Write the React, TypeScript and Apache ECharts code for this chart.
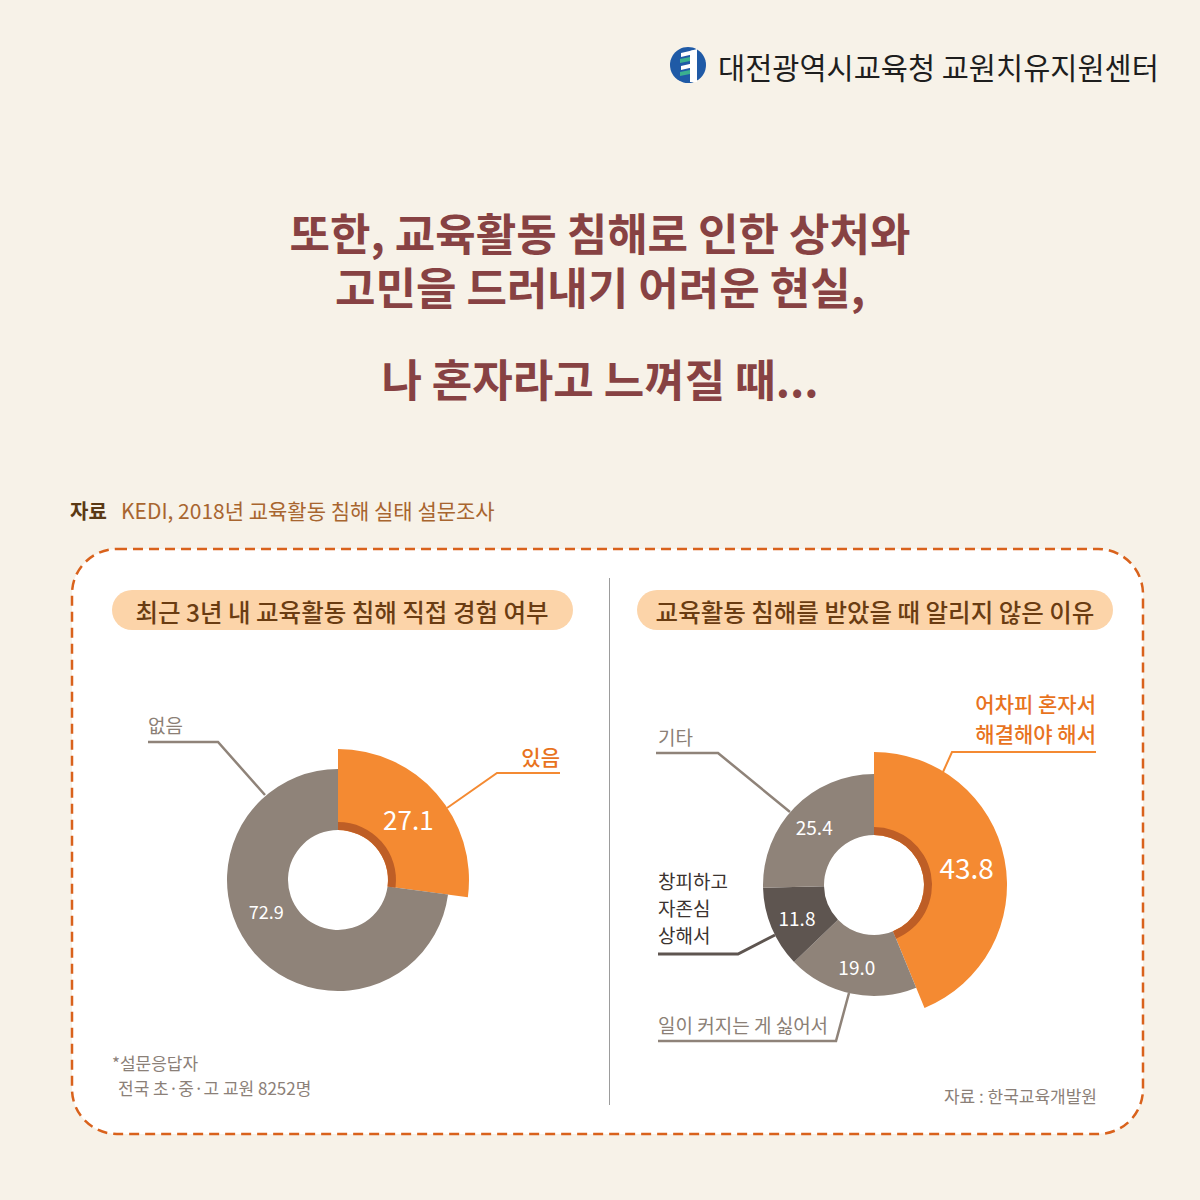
import React, { useEffect, useRef } from "react";
import * as echarts from "echarts";

const FONT = "'Noto Sans CJK KR', 'Noto Sans', sans-serif";

const titleLines = ["또한, 교육활동 침해로 인한 상처와", "고민을 드러내기 어려운 현실,", "나 혼자라고 느껴질 때..."];
const headerText = "대전광역시교육청 교원치유지원센터";
const sourceLabel = "자료";
const sourceText = "KEDI, 2018년 교육활동 침해 실태 설문조사";
const leftTitle = "최근 3년 내 교육활동 침해 직접 경험 여부";
const rightTitle = "교육활동 침해를 받았을 때 알리지 않은 이유";

const leftCategories = ["있음", "없음"];
const leftValues = [27.1, 72.9];

const rightCategories = ["어차피 혼자서\n해결해야 해서", "일이 커지는 게 싫어서", "창피하고\n자존심\n상해서", "기타"];
const rightValues = [43.8, 19.0, 11.8, 25.4];

const leftNote = ["*설문응답자", "전국 초·중·고 교원 8252명"];
const rightNote = "자료 : 한국교육개발원";

const ORANGE = "#F48A32";
const DARK_ORANGE = "#BE5E26";
const GREY = "#8F8379";
const DARK_GREY = "#5E5550";
const TRANSPARENT = "rgba(0,0,0,0)";

const fmt = (p: any) => Number(p.value).toFixed(1);

function pieSeries(
  center: number[],
  radius: number[],
  cats: string[],
  vals: number[],
  colors: (string | null)[],
  labelSizes: (number | null)[],
  z: number,
  labelLayout?: any
) {
  const s: any = {
    type: "pie",
    center,
    radius,
    startAngle: 90,
    clockwise: true,
    avoidLabelOverlap: false,
    silent: true,
    z,
    emphasis: { disabled: true },
    labelLine: { show: false },
    data: cats.map((c, i) => ({
      name: c,
      value: vals[i],
      itemStyle: { color: colors[i] ?? TRANSPARENT },
      label: {
        show: labelSizes[i] != null,
        position: "inside",
        color: "#ffffff",
        fontSize: labelSizes[i] ?? 12,
        fontFamily: FONT,
        fontWeight: "normal",
        formatter: fmt,
      },
    })),
  };
  if (labelLayout) s.labelLayout = labelLayout;
  return s;
}

function txt(text: string, x: number, y: number, size: number, fill: string, align = "left", weight: any = "normal", lineHeight?: number, vAlign = "middle") {
  return {
    type: "text",
    z: 20,
    style: {
      text,
      x,
      y,
      fill,
      fontSize: size,
      fontFamily: FONT,
      fontWeight: weight,
      textAlign: align,
      textVerticalAlign: vAlign,
      lineHeight: lineHeight ?? Math.round(size * 1.3),
    },
  };
}

function pline(points: number[][], color: string, width: number) {
  return {
    type: "polyline",
    z: 20,
    shape: { points },
    style: { stroke: color, lineWidth: width, fill: null },
  };
}

export default function App() {
  const ref = useRef<HTMLDivElement>(null);
  useEffect(() => {
    if (!ref.current) return;
    const chart = echarts.init(ref.current, null, { renderer: "svg" });
    const LC = [338, 880];
    const RC = [874, 885];

    const graphic: any[] = [
      {
        type: "rect",
        z: 0,
        shape: { x: 72, y: 549, width: 1071, height: 585, r: 45 },
        style: { fill: "#ffffff", stroke: "#D9621C", lineWidth: 2.5, lineDash: [10, 6] },
      },
      {
        type: "line",
        z: 1,
        shape: { x1: 609.5, y1: 578, x2: 609.5, y2: 1105 },
        style: { stroke: "#9C9C9C", lineWidth: 1 },
      },
      { type: "rect", z: 1, shape: { x: 112, y: 590, width: 461, height: 40, r: 20 }, style: { fill: "#FCD4A9" } },
      { type: "rect", z: 1, shape: { x: 637, y: 590, width: 476, height: 40, r: 20 }, style: { fill: "#FCD4A9" } },
      txt(leftTitle, 342, 611, 24.5, "#6A3C12", "center", 500),
      txt(rightTitle, 875, 611, 24.5, "#6A3C12", "center", 500),
      { type: "circle", z: 5, shape: { cx: 688, cy: 65, r: 18 }, style: { fill: "#1F5AA6" } },
      { type: "polygon", z: 6, shape: { points: [[681, 53], [694, 50], [694, 54], [681, 57]] }, style: { fill: "#ffffff" } },
      { type: "polygon", z: 6, shape: { points: [[680, 59], [690, 57], [690, 61], [680, 63]] }, style: { fill: "#3BB08F" } },
      { type: "polygon", z: 6, shape: { points: [[681, 66], [694, 63], [694, 67], [681, 70]] }, style: { fill: "#ffffff" } },
      { type: "polygon", z: 6, shape: { points: [[680, 72], [690, 70], [690, 74], [680, 76]] }, style: { fill: "#3BB08F" } },
      { type: "polygon", z: 6, shape: { points: [[690, 51], [697, 49], [697, 82], [690, 82]] }, style: { fill: "#ffffff" } },
      txt(headerText, 718, 66, 29.5, "#1E1E1E", "left", "normal"),
      txt(titleLines[0], 600, 231.5, 44, "#874243", "center", "bold", 48),
      txt(titleLines[1], 600, 285.5, 44, "#874243", "center", "bold", 48),
      txt(titleLines[2], 600, 378, 44, "#874243", "center", "bold", 48),
      txt(sourceLabel, 70, 510, 20, "#5A3914", "left", "bold"),
      txt(sourceText, 121, 510, 21, "#A8652F", "left", "normal"),
      txt(leftCategories[1], 148, 724, 19, "#8B7F76", "left"),
      pline([[148, 742], [218, 742], [265, 795]], GREY, 2.5),
      txt(leftCategories[0], 560, 756, 21, "#E8731E", "right", 500),
      pline([[560, 773], [497, 773], [447, 808]], ORANGE, 2),
      txt(rightCategories[0], 1096, 718, 21, "#E8731E", "right", 500, 30),
      pline([[1096, 752], [952, 752], [943, 772]], ORANGE, 2),
      txt(rightCategories[3], 658, 736, 19, "#8B7F76", "left"),
      pline([[656, 753], [718, 753], [790, 812]], GREY, 2.5),
      txt(rightCategories[2], 658, 907, 19, "#3B3330", "left", "normal", 27),
      pline([[658, 954], [738, 954], [775, 935]], DARK_GREY, 3),
      txt(rightCategories[1], 658, 1024, 19, "#8B7F76", "left"),
      pline([[658, 1041], [836, 1041], [849, 993]], GREY, 2.5),
      txt(leftNote[0], 112, 1062, 17, "#8B8078", "left"),
      txt(leftNote[1], 118, 1087, 17, "#8B8078", "left"),
      txt(rightNote, 1097, 1095, 17, "#8B8078", "right"),
    ];

    chart.setOption({
      animation: false,
      backgroundColor: "#F7F2E8",
      graphic,
      series: [
        pieSeries(LC, [50, 131], leftCategories, leftValues, [ORANGE, null], [26, null], 3),
        pieSeries(LC, [50, 111], leftCategories, leftValues, [null, GREY], [null, 18], 3, () => ({ dx: -9, dy: -24 })),
        pieSeries(LC, [50, 58], leftCategories, leftValues, [DARK_ORANGE, null], [null, null], 4),
        pieSeries(RC, [50, 133], rightCategories, rightValues, [ORANGE, null, null, null], [28, null, null, null], 3),
        pieSeries(RC, [50, 111], rightCategories, rightValues, [null, GREY, DARK_GREY, GREY], [null, 19, 19, 19], 3),
        pieSeries(RC, [50, 58], rightCategories, rightValues, [DARK_ORANGE, null, null, null], [null, null, null, null], 4),
      ],
    });
    return () => chart.dispose();
  }, []);
  return (
    <div
      ref={ref}
      style={{ position: "fixed", left: 0, top: 0, width: 1200, height: 1200 }}
    />
  );
}
